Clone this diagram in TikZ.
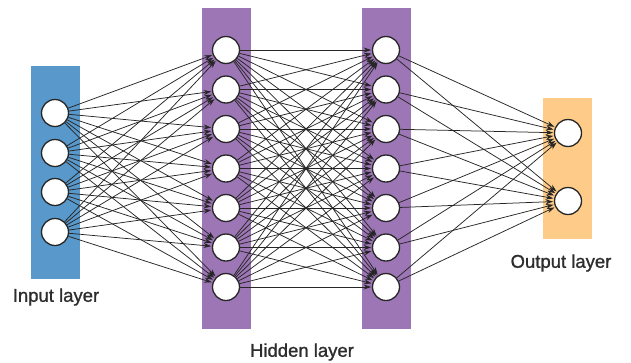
\documentclass[tikz,border=0pt]{standalone}
\usepackage{fontspec}
\setmainfont{Liberation Sans}
\newfontfamily\labfont[FakeBold=1.1]{Liberation Sans}
\usetikzlibrary{arrows.meta}
\definecolor{inblue}{RGB}{88,152,202}
\definecolor{hidpurple}{RGB}{157,118,182}
\definecolor{outorange}{RGB}{254,204,136}
\definecolor{labgray}{RGB}{45,45,45}
\tikzset{
    neuron/.style={circle, draw=black!85, fill=white, line width=1.3pt, minimum size=27pt, inner sep=0pt},
    link/.style={draw=black!85, line width=0.75pt, -{Stealth[length=7.5pt,width=5pt]}, shorten >=0.8pt},
    laylabel/.style={text=labgray, font=\labfont\fontsize{18.5}{20}\selectfont}
}
\begin{document}
\begin{tikzpicture}[x=1pt, y=-1pt]
    \useasboundingbox (0,0) rectangle (631,362);
    %%Các lớp
    \fill[inblue] (31,66) rectangle (80,279);
    \fill[hidpurple] (202,8) rectangle (251,329);
    \fill[hidpurple] (362,8) rectangle (411,329);
    \fill[outorange] (543,98) rectangle (592,239);
    %%Các nơ-ron
    \foreach \i/\y in {1/113, 2/153, 3/192, 4/232}
        \node[neuron] (in\i) at (55,\y) {};
    \foreach \i in {1,...,7}
        \node[neuron] (ha\i) at (226,{50+39.5*(\i-1)}) {};
    \foreach \i in {1,...,7}
        \node[neuron] (hb\i) at (386,{50+39.5*(\i-1)}) {};
    \foreach \i/\y in {1/133, 2/201}
        \node[neuron] (out\i) at (568,\y) {};
    %%Các liên kết
    \foreach \i in {1,...,4}
        \foreach \j in {1,...,7}
            \draw[link] (in\i) -- (ha\j);
    \foreach \i in {1,...,7}
        \foreach \j in {1,...,7}
            \draw[link] (ha\i) -- (hb\j);
    \foreach \i in {1,...,7}
        \foreach \j in {1,2}
            \draw[link] (hb\i) -- (out\j);
    %%Nhãn
    \node[laylabel] (inlab) at (56,297) {Input layer};
    \node[laylabel] (hidlab) at (302,352) {Hidden layer};
    \node[laylabel] (outlab) at (561,263) {Output layer};
\end{tikzpicture}
\end{document}
